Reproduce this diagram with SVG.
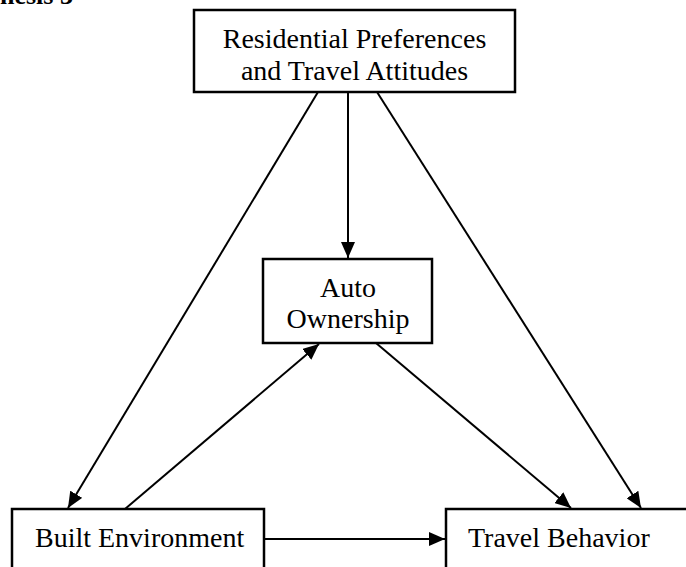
<svg xmlns="http://www.w3.org/2000/svg" width="686" height="567" viewBox="0 0 686 567">
<style>
.box{fill:#fff;stroke:#000;stroke-width:2.5}
.t{font-family:"Liberation Serif","Times New Roman",serif;font-size:28px;fill:#000}
.c{text-anchor:middle}
.edge{stroke:#000;stroke-width:2;fill:none;marker-end:url(#ah)}
</style>
<defs>
<marker id="ah" markerUnits="userSpaceOnUse" markerWidth="16" markerHeight="14" refX="16" refY="7" orient="auto">
<path d="M0,0 L16,7 L0,14 z" fill="#000"/>
</marker>
</defs>
<rect width="686" height="567" fill="#fff"/>
<text x="0" y="4" class="t" style="font-weight:bold;font-size:26px">hesis 3</text>
<g id="connectors">
<line class="edge" x1="318" y1="92" x2="68" y2="508"/>
<line class="edge" x1="348" y1="92" x2="348" y2="258"/>
<line class="edge" x1="377" y1="92" x2="641" y2="508"/>
<line class="edge" x1="125" y1="509" x2="319" y2="344"/>
<line class="edge" x1="376" y1="343" x2="571" y2="508"/>
<line class="edge" x1="264" y1="539" x2="445" y2="539"/>
</g>
<g id="node-preferences">
<rect class="box" x="194" y="10" width="321" height="82"/>
<text class="t c" x="354.5" y="48">Residential Preferences</text>
<text class="t c" x="354.5" y="80">and Travel Attitudes</text>
</g>
<g id="node-auto">
<rect class="box" x="263" y="259" width="169" height="84"/>
<text class="t c" x="348" y="297">Auto</text>
<text class="t c" x="348" y="328">Ownership</text>
</g>
<g id="node-built">
<rect class="box" x="12" y="509" width="252" height="80"/>
<text class="t" x="35" y="547">Built Environment</text>
</g>
<g id="node-travel">
<rect class="box" x="446" y="509" width="260" height="80"/>
<text class="t" x="468" y="547">Travel Behavior</text>
</g>
</svg>
